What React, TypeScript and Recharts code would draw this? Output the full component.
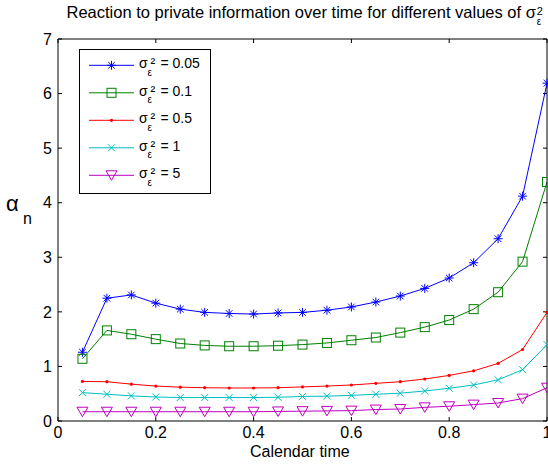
import { Line, LineChart, XAxis, YAxis } from "recharts";

const FONT = "'Liberation Sans', Arial, Helvetica, sans-serif";

const times = [0.05, 0.1, 0.15, 0.2, 0.25, 0.3, 0.35, 0.4, 0.45, 0.5, 0.55, 0.6, 0.65, 0.7, 0.75, 0.8, 0.85, 0.9, 0.95, 1];

const alpha005 = [1.26, 2.25, 2.31, 2.16, 2.05, 1.99, 1.97, 1.96, 1.98, 1.99, 2.03, 2.09, 2.18, 2.29, 2.43, 2.62, 2.9, 3.34, 4.12, 6.19];
const alpha01 = [1.14, 1.66, 1.59, 1.5, 1.42, 1.385, 1.37, 1.37, 1.38, 1.4, 1.43, 1.48, 1.53, 1.62, 1.72, 1.85, 2.05, 2.36, 2.92, 4.38];
const alpha05 = [0.725, 0.72, 0.675, 0.64, 0.62, 0.61, 0.605, 0.605, 0.61, 0.625, 0.64, 0.66, 0.69, 0.72, 0.77, 0.835, 0.92, 1.055, 1.31, 1.99];
const alpha1 = [0.52, 0.49, 0.46, 0.44, 0.43, 0.43, 0.43, 0.43, 0.435, 0.45, 0.455, 0.47, 0.49, 0.51, 0.55, 0.6, 0.66, 0.755, 0.94, 1.4];
const alpha5 = [0.17, 0.17, 0.17, 0.17, 0.17, 0.17, 0.17, 0.17, 0.175, 0.18, 0.185, 0.19, 0.21, 0.22, 0.25, 0.27, 0.3, 0.33, 0.41, 0.61];

const xTicks = [0, 0.2, 0.4, 0.6, 0.8, 1];
const yTicks = [0, 1, 2, 3, 4, 5, 6, 7];

type Shape = "star" | "square" | "dot" | "x" | "tri";

// the last series is bound to the top/right axes so that the mirrored box axes get drawn
const series: { key: string; label: string; color: string; shape: Shape; values: number[]; mirror?: boolean }[] = [
  { key: "s005", label: "0.05", color: "#0000ff", shape: "star", values: alpha005 },
  { key: "s01", label: "0.1", color: "#008000", shape: "square", values: alpha01 },
  { key: "s05", label: "0.5", color: "#ff0000", shape: "dot", values: alpha05 },
  { key: "s1", label: "1", color: "#00bfbf", shape: "x", values: alpha1 },
  { key: "s5", label: "5", color: "#bf00bf", shape: "tri", values: alpha5, mirror: true },
];

const rows = times.map((t, i) => {
  const row: Record<string, number> = { t };
  series.forEach((s) => {
    row[s.key] = s.values[i];
  });
  return row;
});

function Marker({ cx, cy, shape, color }: { cx: number; cy: number; shape: Shape; color: string }) {
  if (cx == null || cy == null) return null;
  switch (shape) {
    case "star":
      return (
        <g stroke={color} strokeWidth={1} fill="none">
          <line x1={cx - 4.5} y1={cy} x2={cx + 4.5} y2={cy} />
          <line x1={cx} y1={cy - 4.5} x2={cx} y2={cy + 4.5} />
          <line x1={cx - 3.3} y1={cy - 3.3} x2={cx + 3.3} y2={cy + 3.3} />
          <line x1={cx - 3.3} y1={cy + 3.3} x2={cx + 3.3} y2={cy - 3.3} />
        </g>
      );
    case "square":
      return <rect x={cx - 4.5} y={cy - 4.5} width={9} height={9} fill="none" stroke={color} strokeWidth={1} />;
    case "dot":
      return <circle cx={cx} cy={cy} r={1.6} fill={color} stroke="none" />;
    case "x":
      return (
        <g stroke={color} strokeWidth={1}>
          <line x1={cx - 3.5} y1={cy - 3.5} x2={cx + 3.5} y2={cy + 3.5} />
          <line x1={cx - 3.5} y1={cy + 3.5} x2={cx + 3.5} y2={cy - 3.5} />
        </g>
      );
    default:
      return (
        <polygon
          points={`${cx - 5.5},${cy - 4.5} ${cx + 5.5},${cy - 4.5} ${cx},${cy + 5}`}
          fill="none"
          stroke={color}
          strokeWidth={1}
        />
      );
  }
}

// line-height 1 => baseline sits at top + 0.8465 * fontSize
const txt = (left: number, baseline: number, size: number) => ({
  position: "absolute" as const,
  left,
  top: baseline - 0.8465 * size,
  fontSize: size,
  lineHeight: `${size}px`,
  whiteSpace: "nowrap" as const,
});

function LegendBox() {
  return (
    <div
      style={{
        position: "absolute",
        left: 79,
        top: 49,
        width: 130,
        height: 143,
        border: "1px solid #000",
        background: "#fff",
      }}
    >
      {series.map((s, i) => {
        const y = 15.3 + i * 27.5;
        return (
          <div key={s.key}>
            <svg style={{ position: "absolute", left: 0, top: 0, overflow: "visible" }} width={1} height={1}>
              <line x1={9} y1={y} x2={54} y2={y} stroke={s.color} strokeWidth={1} />
              <Marker cx={31.5} cy={y} shape={s.shape} color={s.color} />
            </svg>
            <span style={txt(59, y + 3, 14)}>σ</span>
            <span style={txt(67.5, y + 11, 10)}>ε</span>
            <span style={txt(70.5, y + 3, 14)}>²</span>
            <span style={txt(80.5, y + 3, 14)}>= {s.label}</span>
          </div>
        );
      })}
    </div>
  );
}

export default function App() {
  return (
    <div style={{ position: "relative", width: 548, height: 465, fontFamily: FONT, color: "#000", background: "#fff" }}>
      <style>{"html,body{margin:0;padding:0;overflow:hidden}"}</style>
      <LineChart width={548} height={465} data={rows} margin={{ top: 38, right: 0, bottom: 0, left: 0 }}>
        <XAxis
          dataKey="t"
          type="number"
          domain={[0, 1]}
          ticks={xTicks}
          interval={0}
          height={44}
          tickSize={-4}
          tickMargin={10}
          stroke="#000"
          tick={{ fill: "#000", fontSize: 16, fontFamily: FONT }}
          tickFormatter={(v: number) => String(v)}
        />
        <XAxis
          xAxisId="top"
          dataKey="t"
          orientation="top"
          type="number"
          domain={[0, 1]}
          ticks={xTicks}
          interval={0}
          height={1}
          tickSize={-4}
          stroke="#000"
          tickFormatter={() => ""}
        />
        <YAxis
          type="number"
          domain={[0, 7]}
          ticks={yTicks}
          interval={0}
          width={58}
          tickSize={-4}
          tickMargin={10}
          stroke="#000"
          tick={{ fill: "#000", fontSize: 16, fontFamily: FONT }}
        />
        <YAxis
          yAxisId="right"
          orientation="right"
          type="number"
          domain={[0, 7]}
          ticks={yTicks}
          interval={0}
          width={1}
          tickSize={-4}
          stroke="#000"
          tickFormatter={() => ""}
        />
        {series.map((s) => (
          <Line
            key={s.key}
            type="linear"
            dataKey={s.key}
            xAxisId={s.mirror ? "top" : 0}
            yAxisId={s.mirror ? "right" : 0}
            stroke={s.color}
            strokeWidth={1}
            isAnimationActive={false}
            activeDot={false}
            dot={(p: any) => <Marker key={`${s.key}-${p.index}`} cx={p.cx} cy={p.cy} shape={s.shape} color={s.color} />}
          />
        ))}
      </LineChart>

      <div style={txt(66.5, 18.3, 16.5)}>
        Reaction to private information over time for different values of σ
        <span style={{ position: "relative", display: "inline-block", width: 8, height: 0 }}>
          <span style={{ position: "absolute", left: 1, top: -12.6, fontSize: 11, lineHeight: "11px" }}>2</span>
          <span style={{ position: "absolute", left: 1, top: -1.8, fontSize: 10, lineHeight: "10px" }}>ε</span>
        </span>
      </div>

      <span style={txt(6, 212, 22)}>α</span>
      <span style={txt(23, 225, 16)}>n</span>

      <div style={txt(250, 457.3, 16)}>Calendar time</div>

      <LegendBox />
    </div>
  );
}
